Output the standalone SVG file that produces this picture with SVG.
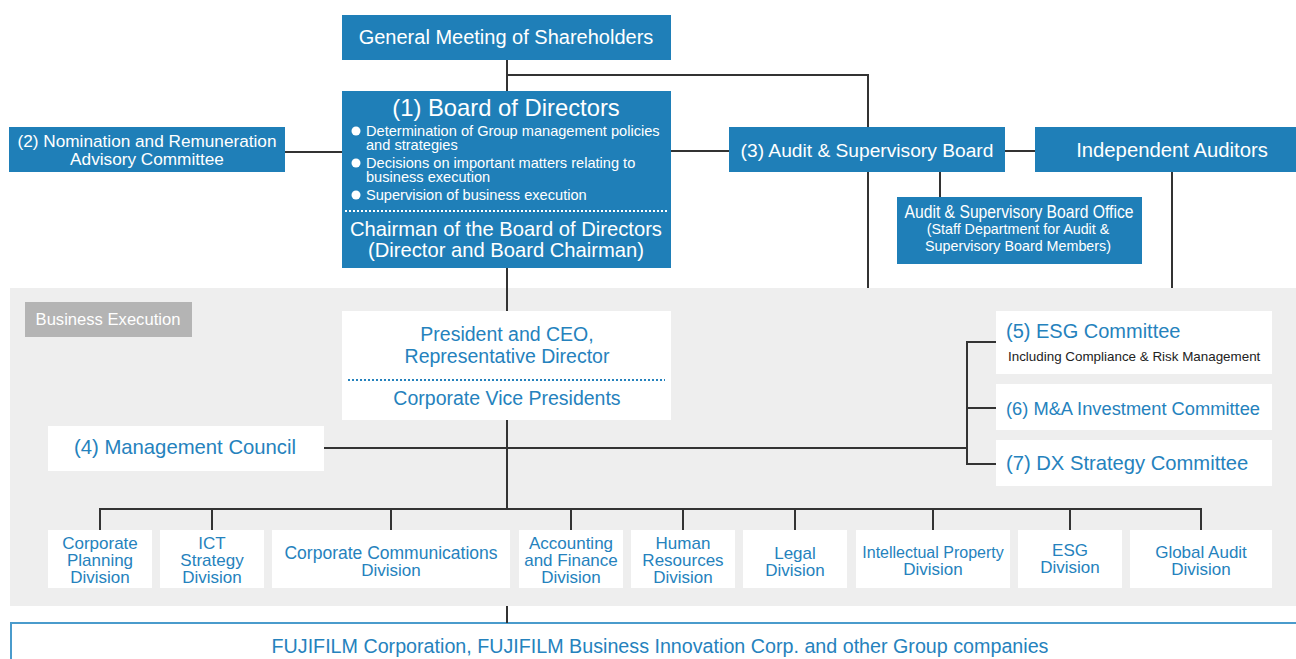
<svg xmlns="http://www.w3.org/2000/svg" width="1296" height="659" viewBox="0 0 1296 659">
<style>
text{font-family:"Liberation Sans",Arial,sans-serif}
.bf{fill:#1f7fb8}
.wf{fill:#ffffff}
.wt{fill:#ffffff}
.bt{fill:#2582bd}
.c{text-anchor:middle}
.ln{stroke:#333;stroke-width:2;fill:none}
</style>
<rect x="0" y="0" width="1296" height="659" fill="#ffffff"/>
<rect id="business-execution-area" x="10" y="288" width="1286" height="318" fill="#eeeeee"/>
<rect x="11" y="623" width="1290" height="50" fill="#ffffff" stroke="#4a9bcc" stroke-width="2"/>
<g id="connectors" class="ln">
<path d="M507 60V91"/>
<path d="M507 75H868V127"/>
<path d="M285 152H342"/>
<path d="M671 151H729"/>
<path d="M1005 151H1035"/>
<path d="M940 172V197"/>
<path d="M868 172V288"/>
<path d="M1172 172V288"/>
<path d="M507 268V311"/>
<path d="M507 420V509"/>
<path d="M324 448H967"/>
<path d="M996 342H967V464H996M967 408H996"/>
<path d="M100 530V509H1201V530M212 509V530M391 509V530M571 509V530M683 509V530M795 509V530M933 509V530M1070 509V530"/>
<path d="M507 606V623"/>
</g>
<g id="gm">
<rect class="bf" x="342" y="15" width="329" height="45"/>
<text class="wt c" x="506" y="44" font-size="20">General Meeting of Shareholders</text>
</g>
<g id="board">
<rect class="bf" x="342" y="91" width="329" height="177"/>
<text class="wt c" x="506" y="116" font-size="23.8">(1) Board of Directors</text>
<g class="wt" font-size="14.6">
<circle cx="356" cy="131" r="4.5" fill="#fff"/>
<text x="366" y="136">Determination of Group management policies</text>
<text x="366" y="150">and strategies</text>
<circle cx="356" cy="163" r="4.5" fill="#fff"/>
<text x="366" y="168">Decisions on important matters relating to</text>
<text x="366" y="182">business execution</text>
<circle cx="356" cy="195" r="4.5" fill="#fff"/>
<text x="366" y="200">Supervision of business execution</text>
</g>
<line x1="345" y1="211" x2="667" y2="211" stroke="#fff" stroke-width="2" stroke-dasharray="2 2"/>
<text class="wt c" x="506" y="236" font-size="20.2">Chairman of the Board of Directors</text>
<text class="wt c" x="506" y="257" font-size="20.2">(Director and Board Chairman)</text>
</g>
<g id="nomination">
<rect class="bf" x="9" y="127" width="276" height="45"/>
<text class="wt c" x="147" y="147" font-size="17.2">(2) Nomination and Remuneration</text>
<text class="wt c" x="147" y="165" font-size="17.2">Advisory Committee</text>
</g>
<g id="audit-board">
<rect class="bf" x="729" y="127" width="276" height="45"/>
<text class="wt c" x="867" y="157" font-size="19.2">(3) Audit &amp; Supervisory Board</text>
</g>
<g id="independent-auditors">
<rect class="bf" x="1035" y="127" width="261" height="45"/>
<text class="wt c" x="1172" y="157" font-size="20.3">Independent Auditors</text>
</g>
<g id="audit-office">
<rect class="bf" x="897" y="197" width="245" height="67"/>
<text class="wt c" x="1019" y="218" font-size="17.5" textLength="229" lengthAdjust="spacingAndGlyphs">Audit &amp; Supervisory Board Office</text>
<text class="wt c" x="1018" y="234" font-size="14.3">(Staff Department for Audit &amp;</text>
<text class="wt c" x="1018" y="251" font-size="14.3">Supervisory Board Members)</text>
</g>
<g id="business-execution-label">
<rect x="25" y="302" width="167" height="35" fill="#b4b4b4"/>
<text class="wt c" x="108" y="325" font-size="16.6">Business Execution</text>
</g>
<g id="president">
<rect class="wf" x="342" y="311" width="329" height="109"/>
<text class="bt c" x="507" y="341" font-size="19.5">President and CEO,</text>
<text class="bt c" x="507" y="363" font-size="19.5">Representative Director</text>
<line x1="348" y1="380" x2="665" y2="380" stroke="#2582bd" stroke-width="2" stroke-dasharray="2 2"/>
<text class="bt c" x="507" y="405" font-size="19.5">Corporate Vice Presidents</text>
</g>
<g id="management-council">
<rect class="wf" x="48" y="426" width="276" height="45"/>
<text class="bt c" x="185" y="454" font-size="20.3">(4) Management Council</text>
</g>
<g id="esg-committee">
<rect class="wf" x="996" y="311" width="276" height="63"/>
<text class="bt" x="1006" y="338" font-size="20">(5) ESG Committee</text>
<text x="1008" y="361" font-size="13.4" fill="#222">Including Compliance &amp; Risk Management</text>
</g>
<g id="ma-committee">
<rect class="wf" x="996" y="384" width="276" height="46"/>
<text class="bt" x="1006" y="415" font-size="18.3">(6) M&amp;A Investment Committee</text>
</g>
<g id="dx-committee">
<rect class="wf" x="996" y="440" width="276" height="46"/>
<text class="bt" x="1006" y="470" font-size="20.2">(7) DX Strategy Committee</text>
</g>
<g class="bt c" font-size="17">
<g id="div-corporate-planning">
<rect class="wf" x="48" y="530" width="104" height="58"/>
<text x="100" y="549">Corporate</text><text x="100" y="566">Planning</text><text x="100" y="583">Division</text>
</g>
<g id="div-ict">
<rect class="wf" x="160" y="530" width="104" height="58"/>
<text x="212" y="549">ICT</text><text x="212" y="566">Strategy</text><text x="212" y="583">Division</text>
</g>
<g id="div-corporate-communications">
<rect class="wf" x="272" y="530" width="238" height="58"/>
<text x="391" y="559" font-size="17.5">Corporate Communications</text><text x="391" y="576">Division</text>
</g>
<g id="div-accounting">
<rect class="wf" x="519" y="530" width="104" height="58"/>
<text x="571" y="549">Accounting</text><text x="571" y="566">and Finance</text><text x="571" y="583">Division</text>
</g>
<g id="div-hr">
<rect class="wf" x="631" y="530" width="104" height="58"/>
<text x="683" y="549">Human</text><text x="683" y="566">Resources</text><text x="683" y="583">Division</text>
</g>
<g id="div-legal">
<rect class="wf" x="743" y="530" width="104" height="58"/>
<text x="795" y="559">Legal</text><text x="795" y="576">Division</text>
</g>
<g id="div-ip">
<rect class="wf" x="856" y="530" width="154" height="58"/>
<text x="933" y="558" font-size="16">Intellectual Property</text><text x="933" y="575">Division</text>
</g>
<g id="div-esg">
<rect class="wf" x="1018" y="530" width="104" height="58"/>
<text x="1070" y="556">ESG</text><text x="1070" y="573">Division</text>
</g>
<g id="div-global-audit">
<rect class="wf" x="1130" y="530" width="142" height="58"/>
<text x="1201" y="558">Global Audit</text><text x="1201" y="575">Division</text>
</g>
</g>
<g id="group-companies">
<text class="bt c" x="660" y="653" font-size="19.7">FUJIFILM Corporation, FUJIFILM Business Innovation Corp. and other Group companies</text>
</g>
</svg>
